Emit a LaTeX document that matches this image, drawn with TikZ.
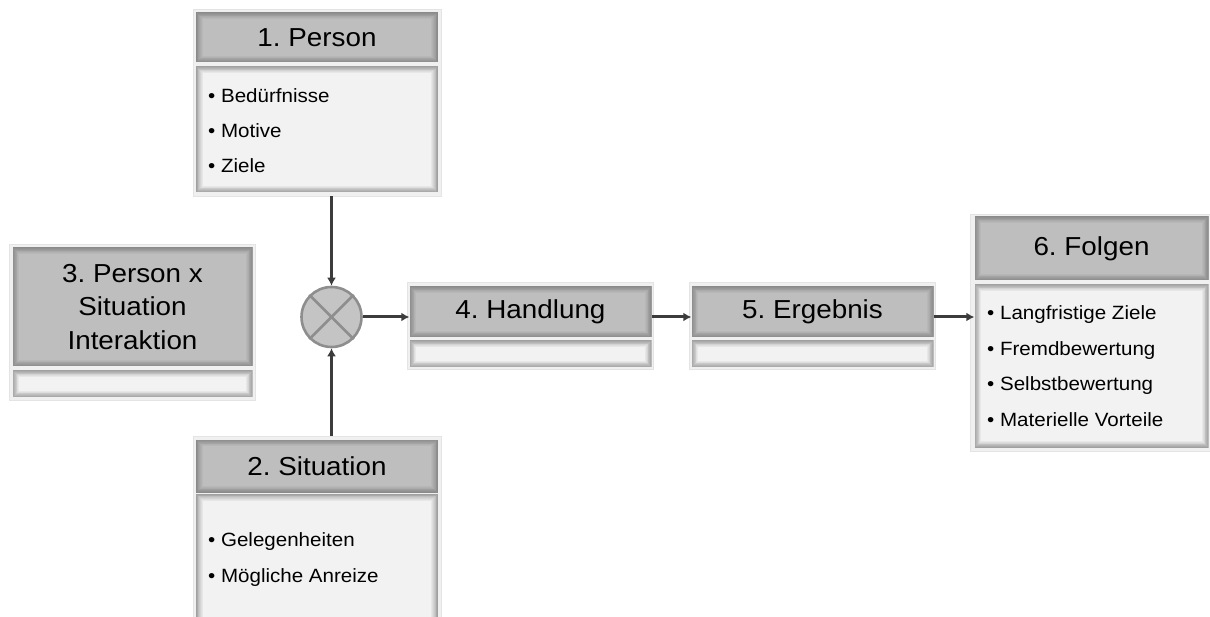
\documentclass[tikz,border=0pt]{standalone}
\usepackage{fontspec}
\setmainfont{Liberation Sans}[FakeStretch=1.07]
\usetikzlibrary{arrows.meta,calc}
\definecolor{hdrfill}{HTML}{BEBEBE}
\definecolor{hdredge}{HTML}{8A8A8A}
\definecolor{bodyfill}{HTML}{F2F2F2}
\definecolor{bodyedge}{HTML}{A0A0A0}
\definecolor{framefill}{HTML}{F0F0F0}
\definecolor{framedge}{HTML}{E4E4E4}
\definecolor{arrcol}{HTML}{3C3C3C}
\definecolor{circfill}{HTML}{C4C4C4}
\definecolor{circedge}{HTML}{8E8E8E}
\frenchspacing
\tikzset{
  glow/.style n args={2}{path picture={
    \foreach \i/\p in {0.5/100,1.3/88,2.1/75,2.9/62,3.7/49,4.5/37,5.3/25,6.1/13} {
      \draw[#1!\p!#2,line width=1pt]
        ([xshift=\i pt,yshift=-\i pt]path picture bounding box.north west) rectangle
        ([xshift=-\i pt,yshift=\i pt]path picture bounding box.south east);
    }}},
}
\begin{document}
\begin{tikzpicture}[x=1pt,y=-1pt,
  frame/.style={draw=framedge,fill=framefill,line width=0.8pt,inner sep=0pt,minimum width=#1},
  hdr/.style={fill=hdrfill,glow={hdredge}{hdrfill},inner sep=0pt,font=\fontsize{26}{33.5}\selectfont,align=center},
  bodybox/.style={fill=bodyfill,glow={bodyedge}{bodyfill},inner sep=0pt},
  item/.style={anchor=base west,inner sep=0pt,font=\fontsize{19.2}{22}\selectfont},
  arr/.style={draw=arrcol,line width=3pt,-{Latex[length=8pt,width=9pt]}},
]
\useasboundingbox (0,0) rectangle (1210,617);
\begin{scope}
\clip (0,0) rectangle (1210,617);
% outer frames
\node[frame=248pt,minimum height=187pt] (f1) at (317,102.5) {};
\node[frame=246pt,minimum height=156pt] (f3) at (132,322) {};
\node[frame=246pt,minimum height=87pt] (f4) at (530.5,326) {};
\node[frame=246pt,minimum height=87pt] (f5) at (812.5,326) {};
\node[frame=242pt,minimum height=237pt] (f6) at (1091,332.5) {};
\node[frame=248pt,minimum height=200pt] (f2) at (317,536) {};

% 1. Person
\node[hdr,minimum width=242pt,minimum height=50pt] (h1) at (317,37.5) {1. Person};
\node[bodybox,minimum width=242pt,minimum height=126pt] (b1) at (317,129.5) {};
\node[item] (i11) at (208,102.5) {• Bedürfnisse};
\node[item] (i12) at (208,137.5) {• Motive};
\node[item] (i13) at (208,172.5) {• Ziele};

% 2. Situation
\node[hdr,minimum width=242pt,minimum height=53pt] (h2) at (317,466) {2. Situation};
\node[bodybox,minimum width=242pt,minimum height=140pt] (b2) at (317,564) {};
\node[item] (i21) at (208,546.5) {• Gelegenheiten};
\node[item] (i22) at (208,582.5) {• Mögliche Anreize};

% 3. Person x Situation
\node[hdr,minimum width=240pt,minimum height=119pt] (h3) at (132.5,307) {3. Person x\\Situation\\Interaktion};
\node[bodybox,minimum width=240pt,minimum height=27pt] (b3) at (132.5,384) {};

% 4. Handlung
\node[hdr,minimum width=242pt,minimum height=51pt] (h4) at (530.5,312) {4. Handlung};
\node[bodybox,minimum width=242pt,minimum height=27pt] (b4) at (530.5,354) {};

% 5. Ergebnis
\node[hdr,minimum width=242pt,minimum height=51pt] (h5) at (812.5,312) {5. Ergebnis};
\node[bodybox,minimum width=242pt,minimum height=27pt] (b5) at (812.5,354) {};

% 6. Folgen
\node[hdr,minimum width=234pt,minimum height=64pt] (h6) at (1091.5,248.5) {6. Folgen};
\node[bodybox,minimum width=234pt,minimum height=163pt] (b6) at (1091.5,366) {};
\node[item] (i61) at (987,319.5) {• Langfristige Ziele};
\node[item] (i62) at (987,355.5) {• Fremdbewertung};
\node[item] (i63) at (987,390.5) {• Selbstbewertung};
\node[item] (i64) at (987,426.5) {• Materielle Vorteile};

% combination circle
\node[circle,draw=circedge,fill=circfill,line width=2.6pt,minimum size=60pt,inner sep=0pt] (c) at (331.5,317) {};
\draw[circedge,line width=2.6pt] (c.north west) -- (c.south east) (c.north east) -- (c.south west);

% connectors
\draw[arr] (f1.south -| c.north) -- (c.north);
\draw[arr] (f2.north -| c.south) -- (c.south);
\draw[arr] (c.east) -- (c.east -| h4.west);
\draw[arr] (h4.east |- c.center) -- (h5.west |- c.center);
\draw[arr] (h5.east |- c.center) -- (b6.west |- c.center);
\end{scope}
\end{tikzpicture}
\end{document}
